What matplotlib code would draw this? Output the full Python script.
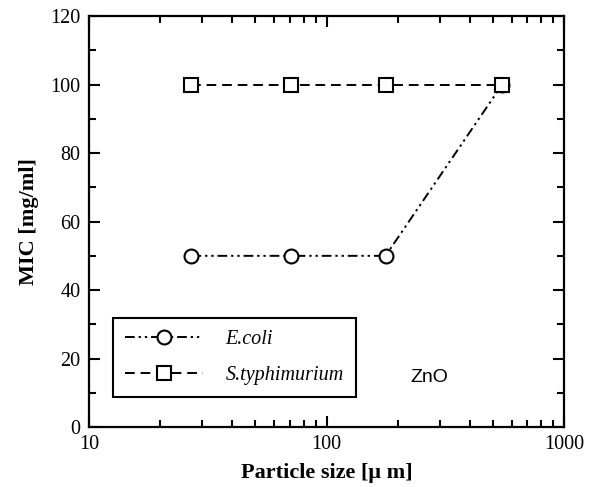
import matplotlib
matplotlib.use("Agg")
import matplotlib.pyplot as plt
from matplotlib.ticker import FixedLocator, NullFormatter, MultipleLocator

# data
size = [27, 71, 177, 548]          # particle size [um]
mic_ecoli = [50, 50, 50, 100]      # E.coli
mic_styph = [100, 100, 100, 100]   # S.typhimurium

plt.rcParams['font.family'] = ['Liberation Serif', 'DejaVu Serif']

fig = plt.figure(figsize=(5.89, 4.87), dpi=100)
ax = fig.add_axes([0.151, 0.123, 0.807, 0.844])

ax.plot(size, mic_ecoli, color='black', lw=1.4, dashes=(5, 2, 1.2, 2, 1.2, 2),
        marker='o', ms=10, mfc='white', mec='black', mew=1.5, label='E.coli')
ax.plot(size, mic_styph, color='black', lw=1.4, dashes=(5, 3),
        marker='s', ms=10, mfc='white', mec='black', mew=1.5, label='S.typhimurium')

ax.set_xscale('log')
ax.set_xlim(10, 1000)
ax.set_ylim(0, 120)
ax.set_xticks([10, 100, 1000])
ax.set_xticklabels(['10', '100', '1000'])
ax.xaxis.set_minor_locator(FixedLocator([d * m for d in (10, 100) for m in range(2, 10)]))
ax.xaxis.set_minor_formatter(NullFormatter())
ax.yaxis.set_major_locator(MultipleLocator(20))
ax.yaxis.set_minor_locator(MultipleLocator(10))

ax.tick_params(which='both', direction='in', top=True, right=True, width=1.5,
               labelsize=14.5, pad=6)
ax.tick_params(which='major', length=8)
ax.tick_params(which='minor', length=5)
for s in ax.spines.values():
    s.set_linewidth(1.6)

ax.set_xlabel('Particle size [\u03bc m]', fontsize=16, fontweight='bold', labelpad=6)
ax.set_ylabel('MIC [mg/ml]', fontsize=16, fontweight='bold', labelpad=8)

leg = ax.legend(loc='lower left', bbox_to_anchor=(0.05, 0.073), borderaxespad=0,
                fancybox=False, edgecolor='black', framealpha=1,
                prop={'style': 'italic', 'size': 14.5}, handlelength=3.9,
                handletextpad=1.1, labelspacing=0.85, borderpad=0.6)
leg.get_frame().set_linewidth(1.5)

ax.text(225, 14.6, 'ZnO', fontsize=14, family='Liberation Sans', va='center', ha='left')

fig.savefig('out.png', dpi=100)
